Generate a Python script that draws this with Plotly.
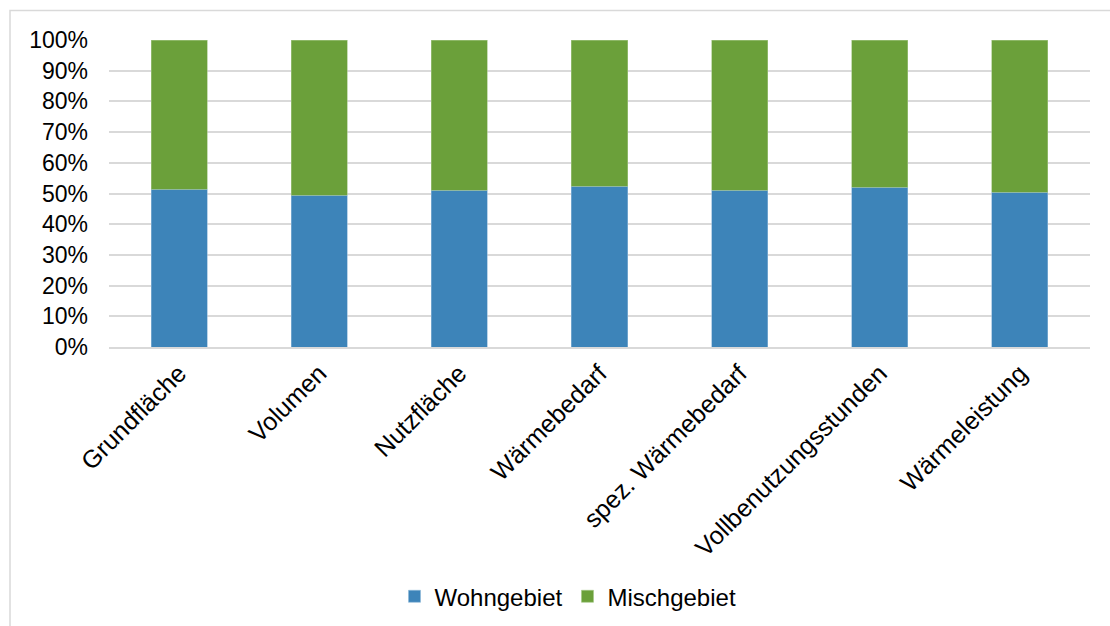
import plotly.graph_objects as go

categories = ["Grundfläche", "Volumen", "Nutzfläche", "Wärmebedarf",
              "spez. Wärmebedarf", "Vollbenutzungsstunden", "Wärmeleistung"]
wohngebiet = [51.4, 49.5, 51.1, 52.3, 51.0, 52.0, 50.4]
mischgebiet = [round(100 - v, 1) for v in wohngebiet]
ytick_vals = [0, 10, 20, 30, 40, 50, 60, 70, 80, 90, 100]
ytick_text = [f"{v}%" for v in ytick_vals]

W, H = 1110, 626
L, R, T, B = 109, 20, 39.5, 278.5
pw, ph = W - L - R, H - T - B

fig = go.Figure()
fig.add_trace(go.Bar(name="Wohngebiet", x=categories, y=wohngebiet,
                     marker=dict(color="#3D84B9", line=dict(color="#8fb8d8", width=0.6))))
fig.add_trace(go.Bar(name="Mischgebiet", x=categories, y=mischgebiet,
                     marker=dict(color="#6BA03A", line=dict(color="#a3c785", width=0.6))))

fig.update_layout(
    width=W, height=H,
    barmode="stack", bargap=0.6,
    margin=dict(l=L, r=R, t=T, b=B, pad=0, autoexpand=False),
    paper_bgcolor="white", plot_bgcolor="white",
    font=dict(family="Liberation Sans, Arial, sans-serif", size=23, color="#000000"),
    showlegend=True,
    legend=dict(orientation="h", x=(568 - L) / pw, xanchor="center", y=(T + ph - 598) / ph,
                yanchor="middle", font=dict(size=24), itemwidth=30,
                traceorder="normal"),
    xaxis=dict(tickangle=-45, showgrid=False, showline=True, linecolor="#d9d9d9",
               linewidth=1.5, ticks="", tickfont=dict(size=25), automargin=False),
    yaxis=dict(range=[0, 100], tickvals=ytick_vals, ticktext=ytick_text,
               showgrid=True, gridcolor="#d9d9d9", gridwidth=1.5, zeroline=False,
               ticks="", tickfont=dict(size=23), ticklabelstandoff=20, automargin=False),
)

# outer chart border
fig.add_shape(type="rect", xref="paper", yref="paper",
              x0=(10 - L) / pw, x1=(W + 20 - L) / pw,
              y0=(T + ph - (H + 20)) / ph, y1=(T + ph - 10) / ph,
              line=dict(color="#d9d9d9", width=1.5), fillcolor="rgba(0,0,0,0)", layer="below")

fig.write_html("out.html")
